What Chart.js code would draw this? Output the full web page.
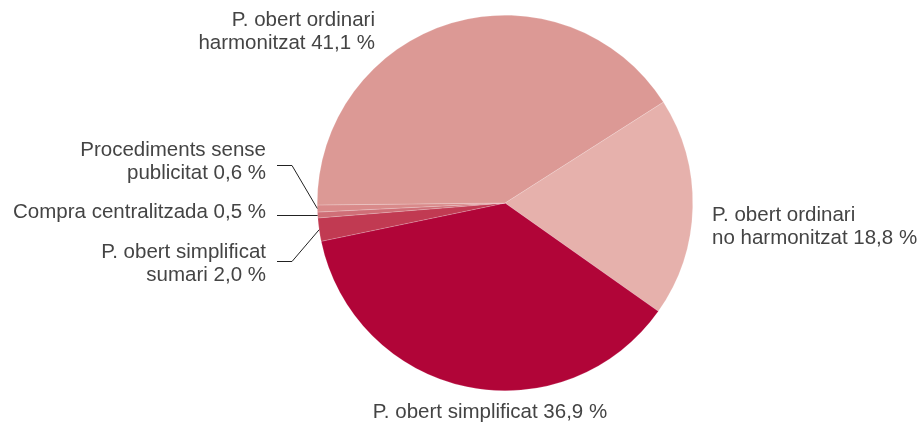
<!DOCTYPE html>
<html>
<head>
<meta charset="utf-8">
<script src="https://cdn.jsdelivr.net/npm/chart.js@4"></script>
<style>
  html, body { margin: 0; padding: 0; background: #fff; }
  #wrap { width: 921px; height: 428px; position: relative; }
</style>
</head>
<body>
<div id="wrap"><canvas id="chart"></canvas></div>
<script>
// Data
const categories = [
  'P. obert ordinari no harmonitzat',
  'P. obert simplificat',
  'P. obert simplificat sumari',
  'Compra centralitzada',
  'Procediments sense publicitat',
  'P. obert ordinari harmonitzat'
];
const shares = [18.8, 36.9, 2.0, 0.5, 0.6, 41.1];
const sliceColors = ['#e6b1ac', '#b10538', '#c13a52', '#cf6f77', '#d98a8a', '#dc9995'];

// label text lines per slice
const labelLines = [
  ['P. obert ordinari', 'no harmonitzat 18,8 %'],
  ['P. obert simplificat 36,9 %'],
  ['P. obert simplificat', 'sumari 2,0 %'],
  ['Compra centralitzada 0,5 %'],
  ['Procediments sense', 'publicitat 0,6 %'],
  ['P. obert ordinari', 'harmonitzat 41,1 %']
];

const FONT = '20.5px "Liberation Sans", Arial, sans-serif';
const TEXT = '#444';
const LINE_H = 23;

// where each label block sits: x anchor, y of first line centre, alignment
const labelPos = [
  { x: 712, y: 215, align: 'left' },
  { x: 490, y: 412, align: 'center' },
  { x: 266, y: 252, align: 'right', leader: 261 },
  { x: 266, y: 212, align: 'right', leader: 'flat' },
  { x: 266, y: 150, align: 'right', leader: 165 },
  { x: 375, y: 20, align: 'right' }
];

const pieLabels = {
  id: 'pieLabels',
  afterDatasetsDraw(chart) {
    const ctx = chart.ctx;
    const arcs = chart.getDatasetMeta(0).data;
    ctx.save();
    ctx.font = FONT;
    ctx.fillStyle = TEXT;
    ctx.textBaseline = 'middle';
    labelLines.forEach((lines, i) => {
      const p = labelPos[i];
      ctx.textAlign = p.align;
      lines.forEach((t, k) => ctx.fillText(t, p.x, p.y + k * LINE_H));

      if (p.leader !== undefined) {
        const a = arcs[i];
        const mid = (a.startAngle + a.endAngle) / 2;
        const ex = a.x + Math.cos(mid) * a.outerRadius;
        const ey = a.y + Math.sin(mid) * a.outerRadius;
        ctx.beginPath();
        ctx.strokeStyle = '#222';
        ctx.lineWidth = 1;
        if (p.leader === 'flat') {
          const y = Math.round(ey) + 0.5;
          ctx.moveTo(277, y);
          ctx.lineTo(ex, y);
        } else {
          ctx.moveTo(277, p.leader + 0.5);
          ctx.lineTo(292, p.leader + 0.5);
          ctx.lineTo(ex, ey);
        }
        ctx.stroke();
      }
    });
    ctx.restore();
  }
};

new Chart(document.getElementById('chart'), {
  type: 'pie',
  data: {
    labels: categories,
    datasets: [{
      data: shares,
      backgroundColor: sliceColors,
      borderColor: 'rgba(255,255,255,0.35)',
      borderWidth: 0.5
    }]
  },
  options: {
    responsive: true,
    maintainAspectRatio: false,
    animation: false,
    rotation: 57.5,
    layout: {
      padding: { top: 15, bottom: 37, left: 317, right: 228 }
    },
    plugins: {
      legend: { display: false },
      tooltip: { enabled: false }
    }
  },
  plugins: [pieLabels]
});
</script>
</body>
</html>
